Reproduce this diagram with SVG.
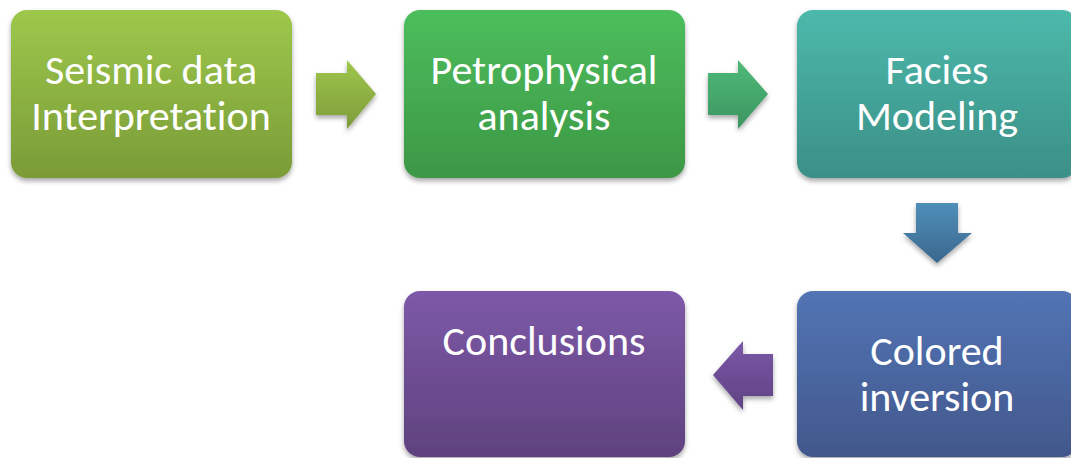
<svg xmlns="http://www.w3.org/2000/svg" width="1071" height="458" viewBox="0 0 1071 458">
  <defs>
    <linearGradient id="gGreenLime" x1="0" y1="0" x2="0" y2="1">
      <stop offset="0" stop-color="#9dc84b"/>
      <stop offset="1" stop-color="#7a9b38"/>
    </linearGradient>
    <linearGradient id="gGreen" x1="0" y1="0" x2="0" y2="1">
      <stop offset="0" stop-color="#4cbe5c"/>
      <stop offset="1" stop-color="#3d9746"/>
    </linearGradient>
    <linearGradient id="gTeal" x1="0" y1="0" x2="0" y2="1">
      <stop offset="0" stop-color="#4cb9ab"/>
      <stop offset="1" stop-color="#3b8f86"/>
    </linearGradient>
    <linearGradient id="gBlue" x1="0" y1="0" x2="0" y2="1">
      <stop offset="0" stop-color="#5274b4"/>
      <stop offset="1" stop-color="#42588c"/>
    </linearGradient>
    <linearGradient id="gPurple" x1="0" y1="0" x2="0" y2="1">
      <stop offset="0" stop-color="#7d59a8"/>
      <stop offset="1" stop-color="#5f427e"/>
    </linearGradient>
    <linearGradient id="aLime" x1="0" y1="0" x2="0" y2="1">
      <stop offset="0" stop-color="#a0c64c"/>
      <stop offset="1" stop-color="#7d9c3a"/>
    </linearGradient>
    <linearGradient id="aGreen" x1="0" y1="0" x2="0" y2="1">
      <stop offset="0" stop-color="#4dba77"/>
      <stop offset="1" stop-color="#3d9561"/>
    </linearGradient>
    <linearGradient id="aBlue" x1="0" y1="0" x2="0" y2="1">
      <stop offset="0" stop-color="#4f8fba"/>
      <stop offset="1" stop-color="#3b678c"/>
    </linearGradient>
    <linearGradient id="aPurple" x1="0" y1="0" x2="0" y2="1">
      <stop offset="0" stop-color="#7b58a8"/>
      <stop offset="1" stop-color="#5f4283"/>
    </linearGradient>
    <filter id="shadow" x="-10%" y="-10%" width="120%" height="130%">
      <feDropShadow dx="0" dy="3" stdDeviation="2.5" flood-color="#000" flood-opacity="0.35"/>
    </filter>
  </defs>
  <style>
    .box { filter: url(#shadow); }
    .lbl { font-family: Carlito, Lato, "Liberation Sans", sans-serif; font-size: 42px; font-weight: 300; fill: #ffffff; text-anchor: middle; font-variant-ligatures: none; }
    .arrow { filter: url(#shadow); }
  </style>

  <g id="connectors">
    <polygon class="arrow" fill="url(#aLime)" points="316,73 347,73 347,60 376,94 347,129 347,115 316,115"/>
    <polygon class="arrow" fill="url(#aGreen)" points="708,73 738,73 738,60 768,94 738,129 738,115 708,115"/>
    <polygon class="arrow" fill="url(#aBlue)" points="916,203 958,203 958,233 972,233 937,263 903,233 916,233"/>
    <polygon class="arrow" fill="url(#aPurple)" points="773,354 743,354 743,341 713,375 743,410 743,396 773,396"/>
  </g>

  <g id="node-seismic">
    <rect class="box" x="11" y="10" width="281" height="168" rx="16" fill="url(#gGreenLime)"/>
    <text class="lbl" x="151" y="84">Seismic data</text>
    <text class="lbl" x="151" y="130">Interpretation</text>
  </g>

  <g id="node-petrophysical">
    <rect class="box" x="404" y="10" width="281" height="168" rx="16" fill="url(#gGreen)"/>
    <text class="lbl" x="544" y="84">Petrophysical</text>
    <text class="lbl" x="544" y="130">analysis</text>
  </g>

  <g id="node-facies">
    <rect class="box" x="797" y="10" width="281" height="168" rx="16" fill="url(#gTeal)"/>
    <text class="lbl" x="937" y="84">Facies</text>
    <text class="lbl" x="937" y="130">Modeling</text>
  </g>

  <g id="node-colored-inversion">
    <rect class="box" x="797" y="291" width="281" height="166" rx="16" fill="url(#gBlue)"/>
    <text class="lbl" x="937" y="365">Colored</text>
    <text class="lbl" x="937" y="411">inversion</text>
  </g>

  <g id="node-conclusions">
    <rect class="box" x="404" y="291" width="281" height="166" rx="16" fill="url(#gPurple)"/>
    <text class="lbl" x="544" y="355">Conclusions</text>
  </g>
</svg>
